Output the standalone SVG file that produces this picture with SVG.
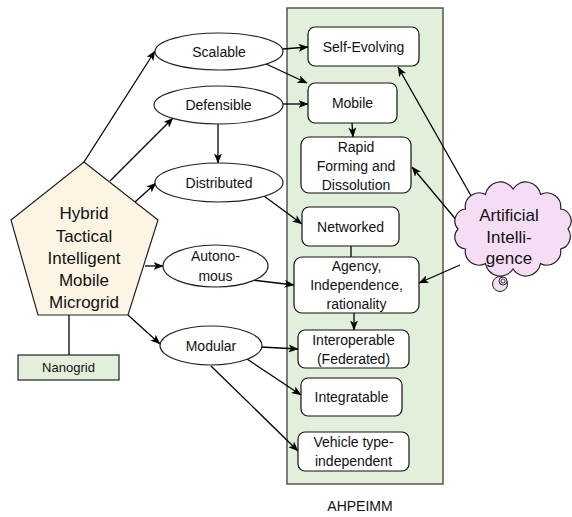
<svg xmlns="http://www.w3.org/2000/svg" width="572" height="517" viewBox="0 0 572 517">
<defs>
<marker id="arr" viewBox="0 0 10 8" refX="9.5" refY="4" markerWidth="10" markerHeight="8" markerUnits="userSpaceOnUse" orient="auto">
<path d="M0,0 L10,4 L0,8 L2.5,4 z" fill="#000"/>
</marker>
<style>
text{font-family:"Liberation Sans",Arial,sans-serif;fill:#111;text-anchor:middle;dominant-baseline:central}
.t14{font-size:14px}
.t13{font-size:13px}
.t17{font-size:17px}
.box{fill:#fff;stroke:#111;stroke-width:1.2}
.ell{fill:#fff;stroke:#222;stroke-width:1.2}
.c{fill:none;stroke:#000;stroke-width:1.3}
.a{marker-end:url(#arr)}
</style>
</defs>
<rect width="572" height="517" fill="#fff"/>

<g id="panel">
<rect x="287" y="8" width="156" height="476" fill="#e2efda" stroke="#555" stroke-width="1.5"/>
<text class="t14" x="360" y="506">AHPEIMM</text>
</g>

<g id="connectors">
<line class="c a" x1="84" y1="162" x2="155" y2="51"/>
<line class="c a" x1="110" y1="181" x2="173" y2="118"/>
<line class="c a" x1="135" y1="202" x2="156" y2="183"/>
<line class="c a" x1="145" y1="266" x2="163" y2="266"/>
<line class="c a" x1="128" y1="315" x2="160" y2="344"/>
<line class="c" x1="69" y1="315" x2="69" y2="355"/>
<line class="c a" x1="283" y1="49" x2="308" y2="47"/>
<line class="c a" x1="264" y1="63" x2="307" y2="83"/>
<line class="c a" x1="283" y1="104" x2="308" y2="104"/>
<line class="c a" x1="218" y1="124" x2="218" y2="163"/>
<line class="c a" x1="264" y1="196" x2="302" y2="224"/>
<line class="c a" x1="252" y1="280" x2="294" y2="285"/>
<line class="c a" x1="261" y1="347" x2="298" y2="349"/>
<line class="c a" x1="247" y1="359" x2="301" y2="395"/>
<line class="c a" x1="211" y1="366" x2="298" y2="451"/>
<line class="c a" x1="352" y1="123" x2="353" y2="137"/>
<line class="c" x1="351" y1="246" x2="351" y2="257"/>
<line class="c a" x1="354" y1="313" x2="354" y2="330"/>
<line class="c a" x1="474" y1="201" x2="398" y2="67"/>
<line class="c a" x1="463" y1="228" x2="412" y2="167"/>
<line class="c a" x1="460" y1="265" x2="419" y2="283"/>
</g>

<g id="hybrid">
<polygon points="84,162 158,220 128,315 38,315 11,220" fill="#fdf5e4" stroke="#222" stroke-width="1.2"/>
<text class="t17" x="84" y="213">Hybrid</text>
<text class="t17" x="84" y="236">Tactical</text>
<text class="t17" x="84" y="258">Intelligent</text>
<text class="t17" x="84" y="280">Mobile</text>
<text class="t17" x="84" y="302">Microgrid</text>
</g>

<g id="nanogrid">
<rect x="18" y="355" width="101" height="25" fill="#e2efda" stroke="#222" stroke-width="1.2"/>
<text class="t13" x="68.5" y="367.5">Nanogrid</text>
</g>

<g id="scalable"><ellipse class="ell" cx="219" cy="51.5" rx="64" ry="18.5"/><text class="t14" x="219" y="51.5">Scalable</text></g>
<g id="defensible"><ellipse class="ell" cx="218.5" cy="105" rx="64.5" ry="19"/><text class="t14" x="218.5" y="105">Defensible</text></g>
<g id="distributed"><ellipse class="ell" cx="219" cy="182.5" rx="64" ry="19.5"/><text class="t14" x="219" y="182.5">Distributed</text></g>
<g id="autonomous"><ellipse class="ell" cx="215.5" cy="266" rx="52.5" ry="21"/><text class="t14" x="215.5" y="256">Autono-</text><text class="t14" x="215.5" y="276">mous</text></g>
<g id="modular"><ellipse class="ell" cx="211" cy="345.5" rx="51" ry="19.5"/><text class="t14" x="211" y="345.5">Modular</text></g>

<g id="self-evolving"><rect class="box" x="308" y="27" width="111" height="39" rx="7"/><text class="t14" x="363.5" y="46.5">Self-Evolving</text></g>
<g id="mobile"><rect class="box" x="308" y="83" width="89" height="40" rx="7"/><text class="t14" x="352.5" y="103">Mobile</text></g>
<g id="rapid"><rect class="box" x="301" y="137" width="110" height="56" rx="8"/><text class="t14" x="356" y="147">Rapid</text><text class="t14" x="356" y="166">Forming and</text><text class="t14" x="356" y="185">Dissolution</text></g>
<g id="networked"><rect class="box" x="302" y="207" width="97" height="39" rx="7"/><text class="t14" x="350.5" y="226.5">Networked</text></g>
<g id="agency"><rect class="box" x="294" y="257" width="125" height="56" rx="8"/><text class="t14" x="356.5" y="266">Agency,</text><text class="t14" x="356.5" y="285">Independence,</text><text class="t14" x="356.5" y="304">rationality</text></g>
<g id="interoperable"><rect class="box" x="298" y="330" width="111" height="38" rx="7"/><text class="t14" x="353.5" y="340">Interoperable</text><text class="t14" x="353.5" y="359">(Federated)</text></g>
<g id="integratable"><rect class="box" x="301" y="378" width="101" height="38" rx="7"/><text class="t14" x="351.5" y="397">Integratable</text></g>
<g id="vehicle"><rect class="box" x="298" y="432" width="111" height="39" rx="7"/><text class="t14" x="353.5" y="442">Vehicle type-</text><text class="t14" x="353.5" y="461">independent</text></g>

<g id="ai">
<path d="M568,229 A13,13 0 0 1 560.6,249 A14,14 0 0 1 540.5,263.6 A15,15 0 0 1 513,269 A15,15 0 0 1 485.5,263.6 A14,14 0 0 1 465.4,249 A12,12 0 0 1 458,229 A12,12 0 0 1 465.4,209 A14,14 0 0 1 485.5,194.4 A15,15 0 0 1 513,189 A15,15 0 0 1 540.5,194.4 A14,14 0 0 1 560.6,209 A12,12 0 0 1 568,229 z" fill="#f5def5" stroke="#222" stroke-width="1.2"/>
<circle cx="500" cy="284" r="7.5" fill="#f5def5" stroke="#222" stroke-width="1"/>
<circle cx="503" cy="281" r="4" fill="#f5def5" stroke="#222" stroke-width="1"/>
<circle cx="503" cy="281" r="2" fill="none" stroke="#222" stroke-width="0.8"/>
<text class="t17" x="509" y="215">Artificial</text>
<text class="t17" x="509" y="237">Intelli-</text>
<text class="t17" x="509" y="258">gence</text>
</g>
</svg>
